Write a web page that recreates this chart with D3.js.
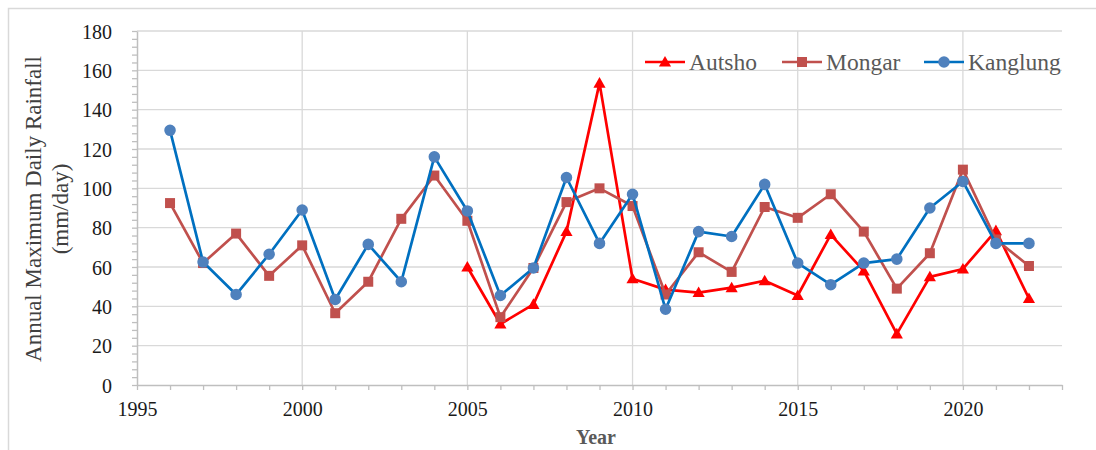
<!DOCTYPE html>
<html>
<head>
<meta charset="utf-8">
<script src="https://cdn.jsdelivr.net/npm/d3@7"></script>
<style>
  html, body { margin: 0; padding: 0; background: #fff; }
  svg { display: block; }
  text, tspan { font-family: "Liberation Serif", "Times New Roman", serif; }
</style>
</head>
<body>
<svg id="chart" width="1096" height="450"></svg>
<script>
// Annual maximum daily rainfall (mm/day) at three stations
const years = d3.range(1996, 2023);
const autsho = [null, null, null, null, null, null, null, null, null,
  60, 31, 41, 78, 153.5, 54, 48.5, 47, 49.5, 53, 45.5, 76.5, 58, 26, 55, 59, 78.5, 44];
const mongar = [92.5, 62, 77, 55.5, 71, 36.5, 52.5, 84.5, 106.5,
  83.5, 34.5, 59.5, 93, 100, 91, 46, 67.5, 57.5, 90.5, 85, 97, 78, 49, 67, 109.5, 74, 60.5];
const kanglung = [129.5, 62.5, 46, 66.5, 89, 43.5, 71.5, 52.5, 116,
  88.5, 45.5, 59.5, 105.5, 72, 97, 38.5, 78, 75.5, 102, 62, 51, 62, 64, 90, 103.5, 72, 72];
const yTicks = [0, 20, 40, 60, 80, 100, 120, 140, 160, 180];
const xTickLabels = [1995, 2000, 2005, 2010, 2015, 2020];

const series = [
  { name: "Autsho",   values: autsho,   line: "#FF0000", marker: "#FF0000", shape: "triangle" },
  { name: "Mongar",   values: mongar,   line: "#C0504D", marker: "#C0504D", shape: "square" },
  { name: "Kanglung", values: kanglung, line: "#0070C0", marker: "#4F81BD", shape: "circle" }
];

const FONT = "Liberation Serif, Times New Roman, serif";
const svg = d3.select("#chart");
const plotLeft = 137, plotRight = 1062, plotTop = 31, plotBottom = 385;

const x = d3.scaleLinear().domain([1995, 2023]).range([plotLeft, plotRight]);
const y = d3.scaleLinear().domain([0, 180]).range([plotBottom, plotTop]);

// outer frame (top and left edges)
svg.append("path")
  .attr("d", `M8.5,450 V8.5 H1096`)
  .attr("fill", "none").attr("stroke", "#D9D9D9").attr("stroke-width", 1.5);

// gridlines
const grid = svg.append("g").attr("stroke", "#D9D9D9").attr("stroke-width", 1.3);
grid.selectAll("line.h").data(yTicks.filter(d => d > 0)).join("line")
  .attr("class", "h")
  .attr("x1", plotLeft).attr("x2", plotRight)
  .attr("y1", d => y(d)).attr("y2", d => y(d));
grid.selectAll("line.v").data(xTickLabels.filter(d => d > 1995)).join("line")
  .attr("class", "v")
  .attr("x1", d => x(d)).attr("x2", d => x(d))
  .attr("y1", plotTop).attr("y2", plotBottom);

// x axis: a tick every year, labels every five years
const xAxis = d3.axisBottom(x)
  .tickValues(d3.range(1995, 2024))
  .tickFormat(d => xTickLabels.includes(d) ? String(d) : "")
  .tickSize(5).tickSizeOuter(0);
const gx = svg.append("g").attr("transform", `translate(0,${plotBottom})`).call(xAxis)
  .attr("font-family", FONT);
gx.select(".domain").attr("stroke", "#BFBFBF").attr("stroke-width", 1.5);
gx.selectAll(".tick line").attr("stroke", "#BFBFBF").attr("stroke-width", 1.3);
gx.selectAll(".tick text")
  .attr("y", 31).attr("dy", 0)
  .attr("fill", "#1a1a1a").attr("font-size", 20)
  .attr("font-family", FONT);

// y axis: minor ticks every 4, labels every 20
const yAxis = d3.axisLeft(y)
  .tickValues(d3.range(0, 181, 4))
  .tickFormat(d => yTicks.includes(d) ? String(d) : "")
  .tickSize(5).tickSizeOuter(0).tickPadding(20);
const gy = svg.append("g").attr("transform", `translate(${plotLeft},0)`).call(yAxis)
  .attr("font-family", FONT);
gy.select(".domain").attr("stroke", "#BFBFBF").attr("stroke-width", 1.5);
gy.selectAll(".tick line").attr("stroke", "#BFBFBF").attr("stroke-width", 1.3);
gy.selectAll(".tick text")
  .attr("dy", "0.35em")
  .attr("fill", "#1a1a1a").attr("font-size", 20)
  .attr("font-family", FONT);

// axis titles
svg.append("text")
  .attr("x", 596).attr("y", 444)
  .attr("text-anchor", "middle")
  .attr("font-family", FONT)
  .attr("font-size", 20).attr("font-weight", "bold")
  .attr("fill", "#595959")
  .text("Year");

const yTitle = svg.append("text")
  .attr("transform", "translate(41,209) rotate(-90)")
  .attr("text-anchor", "middle")
  .attr("font-family", FONT)
  .attr("font-size", 23).attr("fill", "#404040");
yTitle.append("tspan").attr("x", 0).attr("y", 0).text("Annual Maximum Daily Rainfall");
yTitle.append("tspan").attr("x", 0).attr("y", 27).text("(mm/day)");

// marker symbols
const symbolFor = shape => {
  if (shape === "triangle") return d3.symbol(d3.symbolTriangle, 64)();
  if (shape === "square") return d3.symbol(d3.symbolSquare, 100)();
  return d3.symbol(d3.symbolCircle, 105)();
};

const line = d3.line()
  .defined(d => d.v != null)
  .x(d => x(d.year))
  .y(d => y(d.v));

series.forEach(s => {
  const pts = years.map((yr, i) => ({ year: yr, v: s.values[i] }));
  const g = svg.append("g");
  g.append("path")
    .datum(pts)
    .attr("fill", "none")
    .attr("stroke", s.line)
    .attr("stroke-width", 2.7)
    .attr("stroke-linejoin", "round")
    .attr("d", line);
  g.selectAll("path.m").data(pts.filter(d => d.v != null)).join("path")
    .attr("class", "m")
    .attr("d", symbolFor(s.shape))
    .attr("fill", s.marker)
    .attr("transform", d => `translate(${x(d.year)},${y(d.v) + (s.shape === "triangle" ? 1 : 0)})`);
});

// legend
const legendX = [645, 782, 924];
const legendY = 62;
const lg = svg.append("g");
series.forEach((s, i) => {
  const g = lg.append("g").attr("transform", `translate(${legendX[i]},${legendY})`);
  g.append("line").attr("x1", 0).attr("x2", 40).attr("y1", 0).attr("y2", 0)
    .attr("stroke", s.line).attr("stroke-width", 2.7);
  g.append("path").attr("d", symbolFor(s.shape))
    .attr("fill", s.marker)
    .attr("transform", `translate(20,${s.shape === "triangle" ? 1 : 0})`);
  g.append("text").attr("x", 44).attr("y", 0).attr("dy", "0.33em")
    .attr("font-family", FONT)
    .attr("font-size", 23.5).attr("fill", "#595959")
    .text(s.name);
});
</script>
</body>
</html>
